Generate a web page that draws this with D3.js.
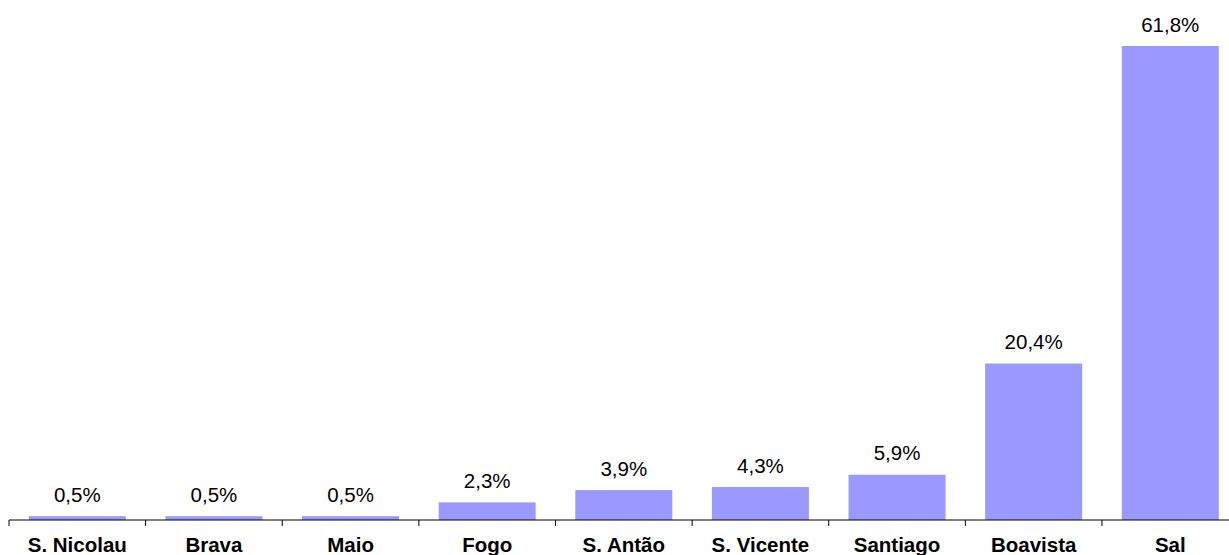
<meta charset="utf-8">
<style>
body { margin: 0; background: #fff; }
text { font-family: "Liberation Sans", Arial, sans-serif; }
</style>
<body>
<script src="https://d3js.org/d3.v7.js"></script>
<script>
var islands = ["S. Nicolau", "Brava", "Maio", "Fogo", "S. Antão", "S. Vicente", "Santiago", "Boavista", "Sal"];
var shares = [0.5, 0.5, 0.5, 2.3, 3.9, 4.3, 5.9, 20.4, 61.8];
var labels = ["0,5%", "0,5%", "0,5%", "2,3%", "3,9%", "4,3%", "5,9%", "20,4%", "61,8%"];

var width = 1229, height = 555;

var svg = d3.select("body").append("svg")
    .attr("width", width)
    .attr("height", height);

var x = d3.scaleBand().domain(islands).range([9, 1238.6]).paddingInner(0.29).paddingOuter(0.145);
var y = d3.scaleLinear().domain([0, 61.8]).range([520, 46]);

// bars
svg.selectAll(".bar")
    .data(islands)
  .enter().append("rect")
    .attr("class", "bar")
    .attr("x", function(d) { return x(d); })
    .attr("y", function(d, i) { return y(shares[i]); })
    .attr("width", x.bandwidth())
    .attr("height", function(d, i) { return y(0) - y(shares[i]); })
    .style("fill", "#9999ff");

// value labels
svg.selectAll(".val")
    .data(islands)
  .enter().append("text")
    .attr("class", "val")
    .attr("x", function(d) { return x(d) + x.bandwidth() / 2; })
    .attr("y", function(d, i) { return y(shares[i]) - 14.5; })
    .attr("text-anchor", "middle")
    .style("font-size", "20.5px")
    .style("fill", "#000")
    .text(function(d, i) { return labels[i]; });

// axis line + ticks between categories
var step = x.step();
var x0 = 9;
svg.append("line")
    .attr("x1", x0).attr("x2", width)
    .attr("y1", y(0)).attr("y2", y(0))
    .style("stroke", "#000").style("stroke-width", 1);

svg.selectAll(".tick")
    .data(d3.range(islands.length))
  .enter().append("line")
    .attr("class", "tick")
    .attr("x1", function(i) { return x0 + i * step; })
    .attr("x2", function(i) { return x0 + i * step; })
    .attr("y1", y(0)).attr("y2", y(0) + 6)
    .style("stroke", "#000").style("stroke-width", 1);

// category labels
svg.selectAll(".cat")
    .data(islands)
  .enter().append("text")
    .attr("class", "cat")
    .attr("x", function(d) { return x(d) + x.bandwidth() / 2; })
    .attr("y", 552)
    .attr("text-anchor", "middle")
    .style("font-size", "20.5px")
    .style("font-weight", "bold")
    .text(function(d) { return d; });
</script>
</body>
